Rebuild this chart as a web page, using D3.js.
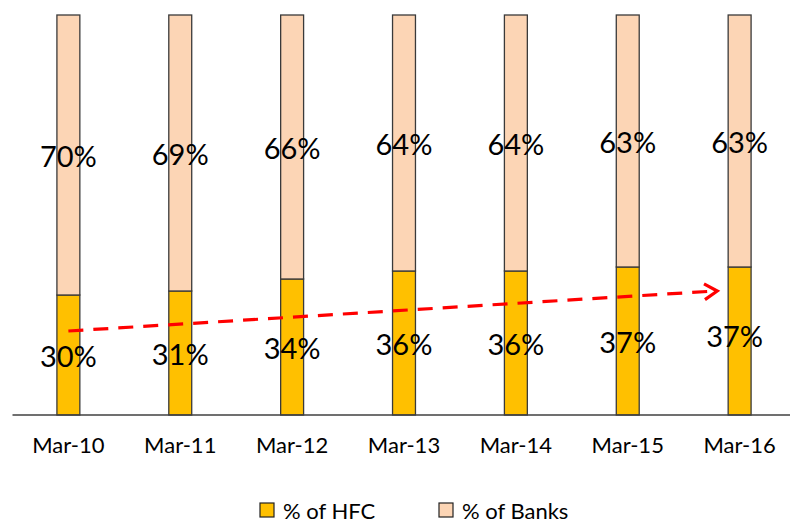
<!DOCTYPE html>
<html>
<head>
<meta charset="utf-8">
<script src="https://cdn.jsdelivr.net/npm/d3@7/dist/d3.min.js"></script>
<style>
  html, body { margin: 0; padding: 0; background: #fff; }
  svg { display: block; }
  text { font-family: Lato, "Open Sans", sans-serif; fill: #000; }
</style>
</head>
<body>
<svg id="chart" width="798" height="525"></svg>
<script>
// Share of housing loans: HFCs vs banks
const categories = ["Mar-10", "Mar-11", "Mar-12", "Mar-13", "Mar-14", "Mar-15", "Mar-16"];
const hfcShare   = [30, 31, 34, 36, 36, 37, 37];
const bankShare  = [70, 69, 66, 64, 64, 63, 63];
const seriesNames = ["% of HFC", "% of Banks"];
const seriesColors = ["#FFC000", "#FCD5B5"];
// Trend arrow endpoints, in category-index / percent units
const trendStart = { idx: 0, value: 21 };
const trendEnd   = { idx: 5.8, value: 31 };

const svg = d3.select("#chart");
const plotTop = 15, plotBottom = 415, plotLeft = 12.5, plotRight = 795.5;

const x = d3.scaleBand().domain(categories).range([plotLeft, plotRight]).paddingInner(0.795).paddingOuter(0.397);
const xIdx = i => {
  // continuous position along the category axis (bar centres at integer indices)
  const c0 = x(categories[0]) + x.bandwidth() / 2;
  return c0 + i * x.step();
};
const y = d3.scaleLinear().domain([0, 100]).range([plotBottom, plotTop]);

const rows = categories.map((c, i) => ({ cat: c, hfc: hfcShare[i], banks: bankShare[i] }));
const stack = d3.stack().keys(["hfc", "banks"])(rows);

const g = svg.append("g");
stack.forEach((layer, li) => {
  g.append("g").selectAll("rect").data(layer).join("rect")
    .attr("x", d => x(d.data.cat))
    .attr("y", d => y(d[1]))
    .attr("width", x.bandwidth())
    .attr("height", d => y(d[0]) - y(d[1]))
    .attr("fill", seriesColors[li])
    .attr("stroke", "#3a3a3a")
    .attr("stroke-width", 1.3);
});

// Axis line and category labels
const xAxis = d3.axisBottom(x).tickSize(0).tickPadding(22);
const axisG = svg.append("g").attr("transform", `translate(0,${plotBottom})`).call(xAxis);
axisG.select(".domain").attr("stroke", "#404040").attr("stroke-width", 1.3)
  .attr("d", `M${plotLeft},0H${790}`);
axisG.selectAll("text").style("font-family", "Lato, 'Open Sans', sans-serif")
  .style("font-size", "22px").attr("fill", "#000");

// Segment value labels
stack.forEach((layer, li) => {
  g.append("g").selectAll("text").data(layer).join("text")
    .attr("x", (d, i) => x(d.data.cat) + x.bandwidth() / 2 + (li === 0 && i === categories.length - 1 ? -5 : 0))
    .attr("y", (d, i) => (y(d[0]) + y(d[1])) / 2 + (li === 0 && i === categories.length - 1 ? -6 : 0))
    .attr("text-anchor", "middle")
    .attr("dominant-baseline", "central")
    .style("font-size", "29px")
    .text(d => (d[1] - d[0]) + "%");
});

// Dashed trend arrow
const x1 = xIdx(trendStart.idx), y1 = y(trendStart.value);
const x2 = xIdx(trendEnd.idx), y2 = y(trendEnd.value);
svg.append("line")
  .attr("x1", x1).attr("y1", y1).attr("x2", x2 - 2).attr("y2", y2)
  .attr("stroke", "#FF0000").attr("stroke-width", 3.2)
  .attr("stroke-dasharray", "15,10");
const ang = Math.atan2(y2 - y1, x2 - x1);
const head = 15, spread = 0.55;
svg.append("path")
  .attr("d", `M${x2 - head * Math.cos(ang - spread)},${y2 - head * Math.sin(ang - spread)}L${x2},${y2}L${x2 - head * Math.cos(ang + spread)},${y2 - head * Math.sin(ang + spread)}`)
  .attr("fill", "none").attr("stroke", "#FF0000").attr("stroke-width", 3.2)
  .attr("stroke-linejoin", "miter");

// Legend
const legendX = [260, 439];
const legend = svg.append("g");
seriesNames.forEach((name, i) => {
  legend.append("rect").attr("x", legendX[i]).attr("y", 503).attr("width", 14).attr("height", 14)
    .attr("fill", seriesColors[i]).attr("stroke", "#222").attr("stroke-width", 1.2);
  legend.append("text").attr("x", legendX[i] + 23).attr("y", 510)
    .attr("dominant-baseline", "central").style("font-size", "22px").text(name);
});
</script>
</body>
</html>
